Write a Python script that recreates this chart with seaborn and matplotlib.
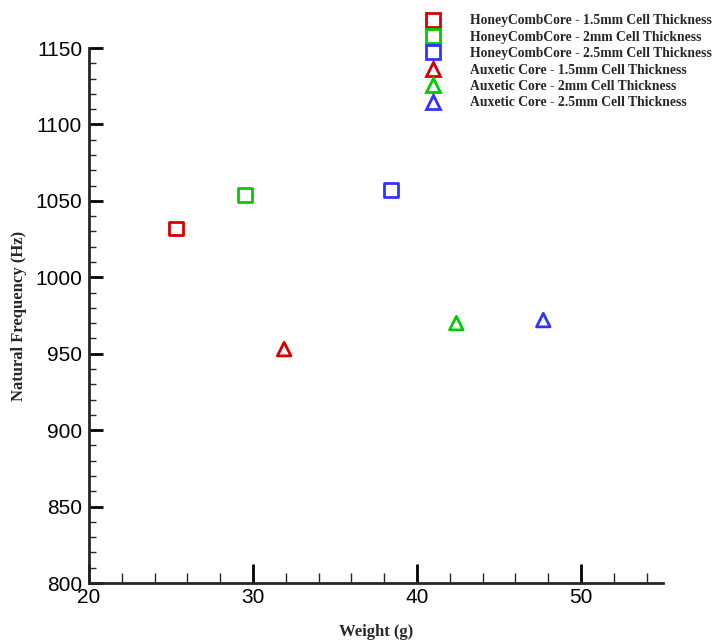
import pandas as pd
import matplotlib
matplotlib.use("Agg")
import matplotlib.pyplot as plt
import seaborn as sns
from matplotlib.lines import Line2D
from matplotlib.ticker import MultipleLocator

sns.set_style("ticks")

# data
labels = [
    "HoneyCombCore - 1.5mm Cell Thickness",
    "HoneyCombCore - 2mm Cell Thickness",
    "HoneyCombCore - 2.5mm Cell Thickness",
    "Auxetic Core - 1.5mm Cell Thickness",
    "Auxetic Core - 2mm Cell Thickness",
    "Auxetic Core - 2.5mm Cell Thickness",
]
weight = [25.3, 29.5, 38.4, 31.9, 42.4, 47.7]
frequency = [1032, 1054, 1057, 953, 970, 972]
markers = ["s", "s", "s", "^", "^", "^"]
colors = ["#d40000", "#00cc00", "#3333ff", "#d40000", "#00cc00", "#3333ff"]

df = pd.DataFrame({"Weight": weight, "Frequency": frequency, "Label": labels})

fig = plt.figure(figsize=(7.14, 6.44), dpi=100)
ax = fig.add_axes([89 / 714, 1 - 583 / 644, (663 - 89) / 714, (583 - 48) / 644])

sns.scatterplot(data=df, x="Weight", y="Frequency", hue="Label", style="Label",
                palette=dict(zip(labels, colors)), markers=dict(zip(labels, markers)),
                s=95, linewidth=2, legend=False, ax=ax)

# open markers with coloured edges
coll = ax.collections[0]
coll.set_edgecolors(coll.get_facecolors())
coll.set_facecolors("none")

ax.set_xlim(20, 55)
ax.set_ylim(800, 1150)
ax.xaxis.set_major_locator(MultipleLocator(10))
ax.xaxis.set_minor_locator(MultipleLocator(2))
ax.yaxis.set_major_locator(MultipleLocator(50))
ax.yaxis.set_minor_locator(MultipleLocator(10))

for side in ["top", "right"]:
    ax.spines[side].set_visible(False)
for side in ["left", "bottom"]:
    ax.spines[side].set_linewidth(2)

ax.tick_params(axis="both", which="major", direction="in", width=2, labelsize=15, colors="black")
ax.tick_params(axis="x", which="major", length=14, pad=3.5)
ax.tick_params(axis="y", which="major", length=10, pad=5)
ax.tick_params(axis="x", which="minor", direction="in", length=7, width=1)
ax.tick_params(axis="y", which="minor", direction="in", length=5, width=1)
for lab in ax.get_xticklabels() + ax.get_yticklabels():
    lab.set_family("Liberation Sans")

ax.set_xlabel("Weight (g)", family="Liberation Serif", fontweight="bold", fontsize=12, labelpad=12)
ax.set_ylabel("Natural Frequency (Hz)", family="Liberation Serif", fontweight="bold", fontsize=12, labelpad=6)

handles = [Line2D([], [], linestyle="none", marker=m, markersize=10, markerfacecolor="none",
                  markeredgecolor=c, markeredgewidth=2) for m, c in zip(markers, colors)]
fig.legend(handles, labels, loc="upper left", bbox_to_anchor=(418 / 714, 1 - 9 / 644),
           frameon=False, prop={"family": "Liberation Serif", "weight": "bold", "size": 9.8},
           handletextpad=2.0, labelspacing=0.25, borderaxespad=0, handlelength=1.4)

plt.savefig("out.png", dpi=100)
